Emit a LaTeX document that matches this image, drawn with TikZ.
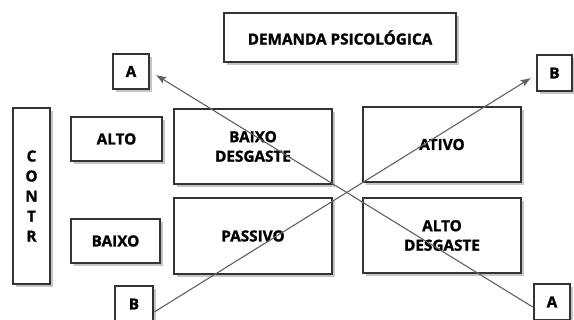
\documentclass[tikz,border=0pt]{standalone}
\usepackage{fontspec}
\setmainfont{Open Sans}[BoldFeatures={FakeBold=1.2}]
\usetikzlibrary{shadows,calc,arrows.meta}
\begin{document}
\begin{tikzpicture}[x=1pt,y=-1pt,
  box/.style={draw=black!80, line width=2.6pt, fill=white,
    drop shadow={shadow xshift=3pt, shadow yshift=-3pt, fill=black!45},
    font=\bfseries\fontsize{15.3}{19.5}\selectfont, align=center, inner sep=0pt, text=black},
  conn/.style={draw=black!62, line width=1.1pt},
  tip/.style={-{Stealth[length=10pt,width=7pt,inset=2pt]}}]
\clip (0,0) rectangle (574,320);
\fill[white] (0,0) rectangle (574,320);
\node[box, minimum width=232pt, minimum height=49pt] (dem) at (340,37.5) {DEMANDA PSICOLÓGICA};
\node[box, minimum width=36pt, minimum height=35pt] (Atop) at (131,71.5) {A};
\node[box, minimum width=35pt, minimum height=36pt] (Btop) at (554.5,73) {B};
\node[box, minimum width=37pt, minimum height=176pt, font=\bfseries\fontsize{15.3}{20}\selectfont] (contr) at (31.5,196) {C\\O\\N\\T\\R};
\node[box, minimum width=91pt, minimum height=44pt] (alto) at (116.5,139) {ALTO};
\node[box, minimum width=89pt, minimum height=44pt] (baixo) at (115.5,241) {BAIXO};
\node[box, minimum width=158pt, minimum height=75pt] (baixod) at (253,146.5) {BAIXO\\DESGASTE};
\node[box, minimum width=158pt, minimum height=75pt] (ativo) at (442,144.5) {ATIVO};
\node[box, minimum width=158pt, minimum height=76pt] (passivo) at (253,236) {PASSIVO};
\node[box, minimum width=158pt, minimum height=75pt] (altod) at (442,235.5) {ALTO\\DESGASTE};
\node[box, minimum width=38pt, minimum height=36pt] (Bbot) at (134,304) {B};
\node[box, minimum width=36pt, minimum height=36pt] (Abot) at (552,302) {A};
\draw[conn, tip, shorten >=7pt] ($(Abot.west)+(0,5)$) -- (Atop.east);
\draw[conn, tip, shorten >=6pt] ($(Bbot.east)+(0,8)$) -- ($(Btop.west)+(0,2)$);
\end{tikzpicture}
\end{document}
